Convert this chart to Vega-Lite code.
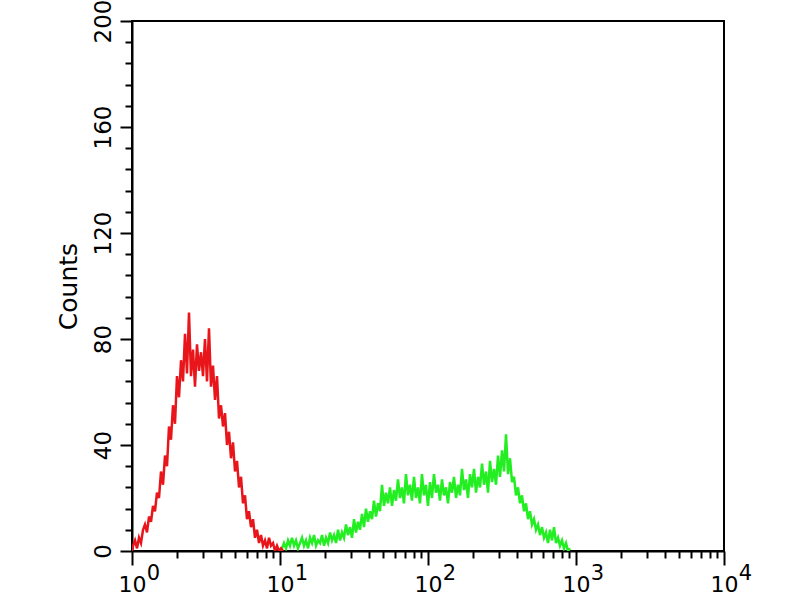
{
  "$schema": "https://vega.github.io/schema/vega-lite/v6.json",
  "autosize": {"type": "none"},
  "width": 592,
  "height": 530,
  "padding": {"left": 132, "top": 21, "right": 76, "bottom": 49},
  "background": "white",
  "config": {
    "view": {"stroke": "black", "strokeWidth": 2},
    "axis": {"labelFont": "DejaVu Sans", "titleFont": "DejaVu Sans", "labelColor": "black", "titleColor": "black", "tickColor": "black", "domainColor": "black", "grid": false}
  },
  "datasets": {
    "red": [
      {"x":1.0,"y":0},{"x":1.016,"y":2},{"x":1.048,"y":4},{"x":1.081,"y":1},{"x":1.115,"y":5},{"x":1.150,"y":3},{"x":1.187,"y":8},{"x":1.224,"y":10},{"x":1.263,"y":7},{"x":1.303,"y":13},
      {"x":1.344,"y":11},{"x":1.386,"y":17},{"x":1.430,"y":15},{"x":1.475,"y":22},{"x":1.522,"y":20},{"x":1.570,"y":30},{"x":1.620,"y":25},{"x":1.671,"y":36},{"x":1.724,"y":32},{"x":1.778,"y":47},
      {"x":1.834,"y":42},{"x":1.892,"y":55},{"x":1.952,"y":48},{"x":2.014,"y":66},{"x":2.078,"y":58},{"x":2.144,"y":72},{"x":2.211,"y":64},{"x":2.281,"y":82},{"x":2.353,"y":67},{"x":2.427,"y":90},
      {"x":2.504,"y":66},{"x":2.584,"y":76},{"x":2.665,"y":62},{"x":2.749,"y":78},{"x":2.836,"y":68},{"x":2.926,"y":75},{"x":3.018,"y":66},{"x":3.113,"y":80},{"x":3.212,"y":64},{"x":3.313,"y":84},
      {"x":3.418,"y":62},{"x":3.526,"y":70},{"x":3.638,"y":57},{"x":3.753,"y":66},{"x":3.871,"y":50},{"x":3.994,"y":55},{"x":4.120,"y":47},{"x":4.250,"y":52},{"x":4.385,"y":40},{"x":4.523,"y":45},
      {"x":4.666,"y":35},{"x":4.814,"y":41},{"x":4.966,"y":30},{"x":5.123,"y":34},{"x":5.285,"y":24},{"x":5.452,"y":28},{"x":5.623,"y":18},{"x":5.801,"y":21},{"x":5.984,"y":12},{"x":6.173,"y":15},
      {"x":6.369,"y":9},{"x":6.570,"y":12},{"x":6.778,"y":5},{"x":6.992,"y":8},{"x":7.213,"y":3},{"x":7.441,"y":6},{"x":7.676,"y":2},{"x":7.919,"y":4},{"x":8.170,"y":1},{"x":8.428,"y":5},
      {"x":8.694,"y":2},{"x":8.969,"y":3},{"x":9.253,"y":0},{"x":9.544,"y":2},{"x":9.845,"y":0},{"x":10.16,"y":1},{"x":10.48,"y":0}
    ],
    "green": [
      {"x":10,"y":0},{"x":10.32,"y":1},{"x":10.64,"y":3},{"x":10.98,"y":1},{"x":11.33,"y":4},{"x":11.68,"y":2},{"x":12.05,"y":5},{"x":12.44,"y":2},{"x":12.83,"y":4},{"x":13.23,"y":1},
      {"x":13.66,"y":3},{"x":14.09,"y":5},{"x":14.53,"y":2},{"x":14.99,"y":4},{"x":15.47,"y":1},{"x":15.96,"y":5},{"x":16.46,"y":3},{"x":16.98,"y":6},{"x":17.52,"y":2},{"x":18.07,"y":4},
      {"x":18.64,"y":3},{"x":19.23,"y":6},{"x":19.84,"y":2},{"x":20.46,"y":5},{"x":21.11,"y":3},{"x":21.78,"y":7},{"x":22.47,"y":4},{"x":23.18,"y":6},{"x":23.91,"y":3},{"x":24.67,"y":8},
      {"x":25.43,"y":4},{"x":26.24,"y":7},{"x":27.07,"y":5},{"x":27.92,"y":10},{"x":28.80,"y":6},{"x":29.71,"y":9},{"x":30.66,"y":5},{"x":31.63,"y":12},{"x":32.63,"y":7},{"x":33.66,"y":11},
      {"x":34.71,"y":8},{"x":35.81,"y":14},{"x":36.94,"y":9},{"x":38.11,"y":16},{"x":39.31,"y":11},{"x":40.56,"y":15},{"x":41.84,"y":12},{"x":43.16,"y":19},{"x":44.53,"y":13},{"x":45.94,"y":18},
      {"x":47.38,"y":15},{"x":48.88,"y":25},{"x":50.42,"y":17},{"x":52.02,"y":22},{"x":53.66,"y":18},{"x":55.36,"y":24},{"x":57.11,"y":17},{"x":58.92,"y":23},{"x":60.78,"y":19},{"x":62.70,"y":27},
      {"x":64.66,"y":20},{"x":66.70,"y":24},{"x":68.81,"y":18},{"x":70.99,"y":29},{"x":73.23,"y":21},{"x":75.55,"y":25},{"x":77.94,"y":19},{"x":80.41,"y":28},{"x":82.95,"y":20},{"x":85.57,"y":24},
      {"x":88.25,"y":18},{"x":91.04,"y":29},{"x":93.92,"y":21},{"x":96.89,"y":25},{"x":99.95,"y":17},{"x":103.1,"y":26},{"x":106.4,"y":20},{"x":109.7,"y":29},{"x":113.2,"y":22},{"x":116.8,"y":25},
      {"x":120.5,"y":19},{"x":124.3,"y":27},{"x":128.2,"y":21},{"x":132.3,"y":24},{"x":136.5,"y":18},{"x":140.8,"y":26},{"x":145.2,"y":22},{"x":149.8,"y":28},{"x":154.6,"y":20},{"x":159.5,"y":25},
      {"x":164.5,"y":21},{"x":169.7,"y":31},{"x":175.1,"y":23},{"x":180.6,"y":27},{"x":186.3,"y":20},{"x":192.2,"y":29},{"x":198.3,"y":24},{"x":204.6,"y":31},{"x":211.0,"y":22},{"x":217.7,"y":28},
      {"x":224.6,"y":24},{"x":231.7,"y":33},{"x":239.0,"y":25},{"x":246.6,"y":30},{"x":254.4,"y":22},{"x":262.4,"y":34},{"x":270.7,"y":26},{"x":279.3,"y":31},{"x":288.1,"y":25},{"x":297.2,"y":36},
      {"x":306.6,"y":28},{"x":316.3,"y":38},{"x":326.3,"y":30},{"x":336.6,"y":44},{"x":347.3,"y":29},{"x":358.2,"y":35},{"x":369.6,"y":26},{"x":381.3,"y":28},{"x":393.3,"y":21},{"x":405.8,"y":24},
      {"x":418.4,"y":18},{"x":431.6,"y":21},{"x":445.3,"y":15},{"x":459.4,"y":18},{"x":473.9,"y":12},{"x":488.9,"y":15},{"x":504.3,"y":10},{"x":520.3,"y":12},{"x":536.7,"y":8},{"x":553.7,"y":10},
      {"x":571.2,"y":6},{"x":589.3,"y":9},{"x":607.9,"y":5},{"x":627.1,"y":7},{"x":647.0,"y":3},{"x":667.4,"y":8},{"x":688.5,"y":4},{"x":710.3,"y":9},{"x":732.7,"y":3},{"x":755.9,"y":5},
      {"x":779.6,"y":2},{"x":804.3,"y":4},{"x":829.7,"y":1},{"x":855.9,"y":3},{"x":883.0,"y":0},{"x":910.9,"y":1}
    ]
  },
  "layer": [
    {
      "data": {"name": "green"},
      "mark": {"type": "line", "color": "#22ee22", "strokeWidth": 2.5, "clip": true},
      "encoding": {
        "x": {"field": "x", "type": "quantitative", "scale": {"type": "log", "domain": [1, 10000], "nice": false},
          "axis": {"orient": "bottom", "values": [1, 10, 100, 1000, 10000], "ticks": false, "domain": false,
            "labelExpr": "'' + round(log(datum.value)/LN10)", "labelFontSize": 21, "labelBaseline": "top", "labelAlign": "center",
            "labelOffset": 21, "labelPadding": 11, "labelFlush": false, "labelOverlap": false, "title": null}},
        "y": {"field": "y", "type": "quantitative", "scale": {"domain": [0, 200], "nice": false, "zero": true}, "axis": null}
      }
    },
    {
      "data": {"name": "red"},
      "mark": {"type": "line", "color": "#e8161a", "strokeWidth": 2.5, "clip": true},
      "encoding": {
        "x": {"field": "x", "type": "quantitative", "scale": {"type": "log", "domain": [1, 10000], "nice": false},
          "axis": {"orient": "bottom",
            "values": [1,2,3,4,5,6,7,8,9,10,20,30,40,50,60,70,80,90,100,200,300,400,500,600,700,800,900,1000,2000,3000,4000,5000,6000,7000,8000,9000,10000],
            "domain": true, "domainWidth": 2,
            "tickSize": {"condition": {"test": "indexof([1,10,100,1000,10000], datum.value) < 0", "value": 7}, "value": 14},
            "tickWidth": 2,
            "labelExpr": "indexof([1,10,100,1000,10000], datum.value) >= 0 ? '10' : ''",
            "labelFontSize": 22, "labelBaseline": "top", "labelAlign": "center", "labelPadding": 9, "labelFlush": false, "labelOverlap": false, "title": null}},
        "y": {"field": "y", "type": "quantitative", "scale": {"domain": [0, 200], "nice": false, "zero": true},
          "axis": {"orient": "left",
            "values": [0,8,16,24,32,40,48,56,64,72,80,88,96,104,112,120,128,136,144,152,160,168,176,184,192,200],
            "domain": true, "domainWidth": 2,
            "tickSize": {"condition": {"test": "datum.value % 40 != 0", "value": 7}, "value": 12},
            "tickWidth": 2,
            "labelExpr": "datum.value % 40 == 0 ? datum.label : ''",
            "labelFontSize": 23, "labelAngle": -90, "labelAlign": "center", "labelBaseline": "alphabetic", "labelPadding": 10, "labelFlush": false, "labelOverlap": false,
            "title": "Counts", "titleFontSize": 25, "titleFontWeight": "normal", "titlePadding": 11}}
      }
    }
  ],
  "resolve": {"axis": {"x": "independent", "y": "independent"}}
}
